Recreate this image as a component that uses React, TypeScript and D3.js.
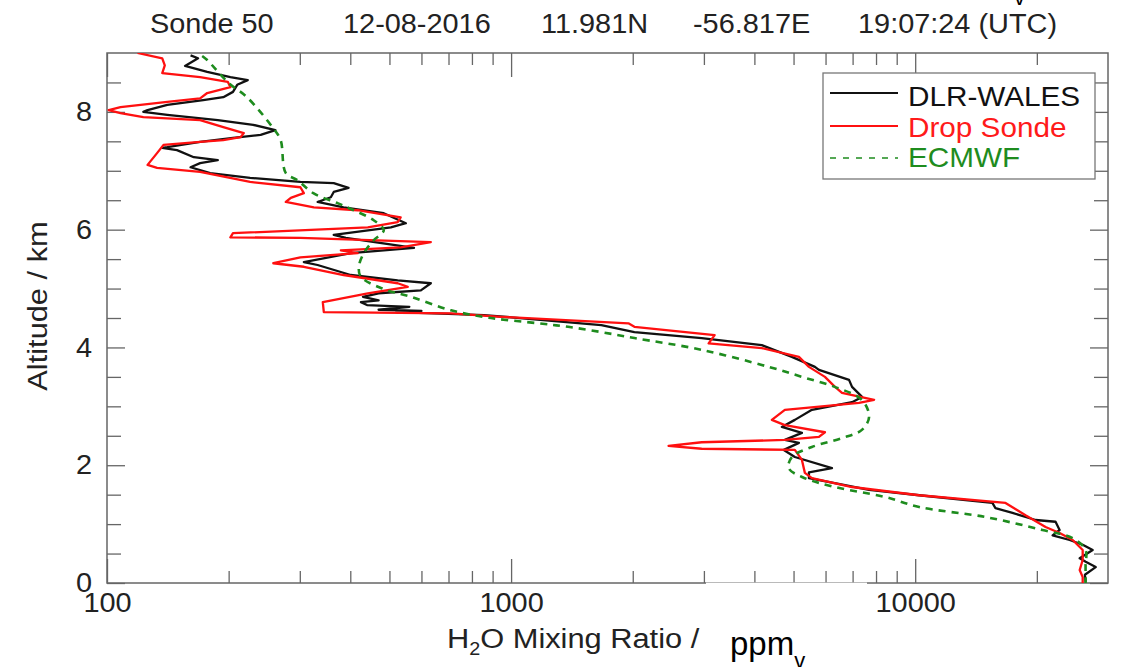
import React, { useEffect, useRef } from "react";
import * as d3 from "d3";

// [altitude km, H2O mixing ratio ppmv]
const dlrWales: [number, number][] = [
  [8.96, 161], [8.91, 168], [8.78, 156], [8.68, 177], [8.59, 202], [8.54, 223], [8.46, 210], [8.34, 205],
  [8.25, 194], [8.2, 173], [8.12, 141], [8.03, 126], [8.0, 123], [7.95, 141], [7.86, 188], [7.78, 230],
  [7.69, 261], [7.61, 240], [7.56, 205], [7.49, 170], [7.4, 141], [7.39, 137], [7.35, 149], [7.23, 164],
  [7.18, 188], [7.13, 170], [7.06, 161], [6.96, 180], [6.88, 226], [6.81, 301], [6.79, 364], [6.71, 396],
  [6.64, 364], [6.55, 358], [6.47, 332], [6.38, 385], [6.28, 484], [6.11, 549], [6.04, 504], [5.91, 364],
  [5.86, 390], [5.69, 575], [5.6, 401], [5.45, 307], [5.4, 332], [5.23, 401], [5.14, 524], [5.09, 633],
  [4.97, 598], [4.92, 470], [4.86, 430], [4.8, 470], [4.77, 425], [4.72, 440], [4.69, 560], [4.64, 470],
  [4.62, 600], [4.6, 520], [4.57, 700], [4.55, 857], [4.38, 1672], [4.26, 2019], [4.16, 2962], [4.04, 4172],
  [3.84, 4952], [3.67, 5648], [3.62, 5778], [3.45, 6859], [3.33, 6978], [3.16, 7387], [3.07, 6978], [2.94, 5552],
  [2.77, 5037], [2.65, 4677], [2.55, 5244], [2.43, 4758], [2.38, 5155], [2.26, 4731], [2.14, 5037], [1.95, 6223],
  [1.88, 5458], [1.78, 5458], [1.66, 6704], [1.58, 7689], [1.49, 10230], [1.36, 15530], [1.27, 15800], [1.19, 17410],
  [1.07, 19860], [1.04, 22250], [0.9, 22770], [0.81, 21880], [0.73, 24110], [0.65, 25970], [0.56, 27490], [0.42, 25530],
  [0.36, 26420], [0.27, 27970], [0.14, 26300], [0.02, 26420],
];

const dropSonde: [number, number][] = [
  [9.0, 119], [8.91, 137], [8.79, 139], [8.66, 137], [8.59, 170], [8.51, 199], [8.42, 202], [8.32, 177],
  [8.23, 170], [8.17, 141], [8.08, 108], [8.03, 101], [7.98, 108], [7.91, 123], [7.86, 170], [7.74, 194],
  [7.64, 218], [7.57, 214], [7.52, 194], [7.49, 170], [7.44, 138], [7.3, 133], [7.1, 126], [7.05, 133],
  [6.98, 170], [6.81, 226], [6.72, 301], [6.62, 307], [6.54, 285], [6.47, 277], [6.38, 325], [6.33, 417],
  [6.21, 533], [6.13, 524], [6.04, 442], [5.94, 205], [5.87, 202], [5.86, 301], [5.79, 633], [5.7, 533],
  [5.65, 379], [5.6, 417], [5.53, 301], [5.43, 258], [5.37, 307], [5.23, 385], [5.09, 524], [5.03, 555],
  [4.92, 442], [4.77, 342], [4.6, 344], [4.58, 710], [4.52, 945], [4.41, 1951], [4.35, 2019], [4.21, 3189],
  [4.07, 3082], [3.99, 4172], [3.84, 5155], [3.67, 5458], [3.5, 5979], [3.33, 6331], [3.23, 6590], [3.11, 7912],
  [3.06, 7261], [2.94, 4758], [2.77, 4418], [2.68, 4758], [2.56, 5979], [2.48, 5778], [2.43, 4758], [2.39, 2962],
  [2.33, 2453], [2.28, 2962], [2.26, 5037], [2.09, 5244], [1.87, 5333], [1.78, 5552], [1.63, 6978], [1.49, 10230],
  [1.36, 16730], [1.15, 18750], [0.95, 21020], [0.85, 22770], [0.73, 24530], [0.56, 25970], [0.39, 25970], [0.22, 25530],
  [0.1, 25970], [0.0, 25970],
];

const ecmwf: [number, number][] = [
  [8.95, 172], [8.88, 177], [8.49, 200], [8.25, 222], [7.72, 258], [7.52, 269], [6.96, 277], [6.84, 296],
  [6.62, 324], [6.45, 372], [6.33, 408], [6.16, 457], [5.99, 484], [5.82, 457], [5.6, 432], [5.37, 420],
  [5.2, 425], [5.0, 480], [4.86, 565], [4.63, 710], [4.5, 892], [4.41, 1167], [4.35, 1384], [4.26, 1673],
  [4.16, 2019], [3.96, 2960], [3.67, 4342], [3.5, 5248], [3.33, 6324], [3.11, 7380], [2.82, 7690], [2.6, 7380],
  [2.46, 6590], [2.31, 5550], [2.14, 4955], [1.95, 4865], [1.8, 5248], [1.63, 6324], [1.46, 8430], [1.29, 10230],
  [1.12, 14930], [0.9, 20650], [0.76, 24530], [0.56, 26400], [0.3, 26400], [0.0, 26400],
];

const titleParts = ["Sonde 50", "12-08-2016", "11.981N", "-56.817E", "19:07:24 (UTC)"];
const xMajor = [100, 1000, 10000];
const xMinor = [200, 300, 400, 500, 600, 700, 800, 900, 2000, 3000, 4000, 5000, 6000, 7000, 8000, 9000, 20000];
const yMajor = [0, 2, 4, 6, 8];
const yMinor = [0.5, 1, 1.5, 2.5, 3, 3.5, 4.5, 5, 5.5, 6.5, 7, 7.5, 8.5];
const legendNames = ["DLR-WALES", "Drop Sonde", "ECMWF"];

export default function App() {
  const ref = useRef<SVGSVGElement>(null);

  useEffect(() => {
    const width = 1131;
    const height = 667;
    const margin = { top: 53, right: 23, bottom: 84, left: 107 };
    const stretch = "scale(1.07,1)";
    const font = "'Liberation Sans', Arial, sans-serif";

    const svg = d3.select(ref.current);
    svg.selectAll("*").remove();

    const x = d3.scaleLog().domain([100, 30000]).range([margin.left, width - margin.right]);
    const y = d3.scaleLinear().domain([0, 9]).range([height - margin.bottom, margin.top]);
    const x0 = margin.left, x1 = width - margin.right, y0 = height - margin.bottom, y1 = margin.top;

    svg.append("rect").attr("width", width).attr("height", height).attr("fill", "#fff");

    svg.append("clipPath").attr("id", "plot-clip")
      .append("rect").attr("x", x0).attr("y", y1).attr("width", x1 - x0).attr("height", y0 - y1);

    const tickColor = "#666";
    const axisStyle = (g: any) => {
      g.select(".domain").remove();
      g.selectAll(".tick line").attr("stroke", tickColor).attr("stroke-width", 1.3);
      g.selectAll("text").attr("font-family", font).attr("font-size", 27).attr("fill", "#222").attr("transform", stretch);
    };

    // bottom / top
    svg.append("g").attr("transform", `translate(0,${y0})`)
      .call(d3.axisBottom(x).tickValues(xMinor).tickSize(-12).tickFormat(() => "")).call(axisStyle);
    svg.append("g").attr("transform", `translate(0,${y0})`)
      .call(d3.axisBottom(x).tickValues(xMajor).tickSize(-24).tickPadding(10).tickFormat(d3.format("d"))).call(axisStyle);
    svg.append("g").attr("transform", `translate(0,${y1})`)
      .call(d3.axisTop(x).tickValues(xMinor).tickSize(-12).tickFormat(() => "")).call(axisStyle);
    svg.append("g").attr("transform", `translate(0,${y1})`)
      .call(d3.axisTop(x).tickValues(xMajor).tickSize(-24).tickFormat(() => "")).call(axisStyle);

    // left / right
    svg.append("g").attr("transform", `translate(${x0},0)`)
      .call(d3.axisLeft(y).tickValues(yMinor).tickSize(-14).tickFormat(() => "")).call(axisStyle);
    svg.append("g").attr("transform", `translate(${x0},0)`)
      .call(d3.axisLeft(y).tickValues(yMajor).tickSize(-18).tickPadding(14).tickFormat(d3.format("d"))).call(axisStyle);
    svg.append("g").attr("transform", `translate(${x1},0)`)
      .call(d3.axisRight(y).tickValues(yMinor).tickSize(-14).tickFormat(() => "")).call(axisStyle);
    svg.append("g").attr("transform", `translate(${x1},0)`)
      .call(d3.axisRight(y).tickValues(yMajor).tickSize(-18).tickFormat(() => "")).call(axisStyle);

    svg.append("rect").attr("x", x0).attr("y", y1).attr("width", x1 - x0).attr("height", y0 - y1)
      .attr("fill", "none").attr("stroke", tickColor).attr("stroke-width", 1.5);

    const line = d3.line<[number, number]>().x(d => x(d[1])).y(d => y(d[0]));
    const plot = svg.append("g").attr("clip-path", "url(#plot-clip)");

    plot.append("path").datum(dlrWales).attr("d", line)
      .attr("fill", "none").attr("stroke", "#111").attr("stroke-width", 2.3).attr("stroke-linejoin", "round");
    plot.append("path").datum(dropSonde).attr("d", line)
      .attr("fill", "none").attr("stroke", "#ff1010").attr("stroke-width", 2.3).attr("stroke-linejoin", "round");
    plot.append("path").datum(ecmwf).attr("d", line.curve(d3.curveCatmullRom))
      .attr("fill", "none").attr("stroke", "#1e8c1e").attr("stroke-width", 2.6).attr("stroke-dasharray", "7,6");

    // legend
    const legend = svg.append("g");
    legend.append("rect").attr("x", 823).attr("y", 73).attr("width", 272).attr("height", 106)
      .attr("fill", "#fff").attr("stroke", "#777").attr("stroke-width", 1.3);
    const legendColors = ["#111", "#ff1010", "#1e8c1e"];
    const legendText = ["#111", "#ff1a1a", "#1e8c1e"];
    legendNames.forEach((name, i) => {
      const ly = [93, 126, 158][i];
      legend.append("line").attr("x1", 830).attr("x2", 898).attr("y1", ly).attr("y2", ly)
        .attr("stroke", legendColors[i]).attr("stroke-width", i === 2 ? 1.6 : 2)
        .attr("stroke-dasharray", i === 2 ? "6,7" : null);
      legend.append("text").attr("transform", `translate(908,${[106, 137, 167][i]}) scale(1.1,1)`)
        .attr("font-family", font).attr("font-size", 27).attr("fill", legendText[i]).text(name);
    });

    // title
    const titleX = [150, 343, 541, 693, 858];
    titleParts.forEach((t, i) => {
      svg.append("text").attr("transform", `translate(${titleX[i]},33) ${stretch}`)
        .attr("font-family", font).attr("font-size", 27).attr("fill", "#222").text(t);
    });

    // axis titles
    svg.append("text").attr("transform", `translate(47,306) rotate(-90) scale(1.1,1)`)
      .attr("text-anchor", "middle").attr("font-family", font).attr("font-size", 28).attr("fill", "#222")
      .text("Altitude / km");

    const xt = svg.append("text").attr("transform", `translate(447,648) scale(1.1,1)`)
      .attr("font-family", font).attr("font-size", 28).attr("fill", "#222");
    xt.append("tspan").text("H");
    xt.append("tspan").attr("font-size", 18).attr("dy", 7).text("2");
    xt.append("tspan").attr("dy", -7).text("O Mixing Ratio /");

    // pasted unit patch
    svg.append("rect").attr("x", 706).attr("y", 582.6).attr("width", 161).attr("height", 90).attr("fill", "#fff");
    const unit = svg.append("text").attr("x", 730).attr("y", 655)
      .attr("font-family", "Arial, 'Liberation Sans', sans-serif").attr("font-size", 33).attr("fill", "#000");
    unit.append("tspan").text("ppm");
    unit.append("tspan").attr("font-size", 22).attr("dy", 13).text("v");

    svg.append("text").attr("x", 1014).attr("y", 5)
      .attr("font-family", "Arial, 'Liberation Sans', sans-serif").attr("font-size", 22).attr("fill", "#000").text("v");
  }, []);

  return (
    <svg ref={ref} width={1131} height={667} style={{ position: "absolute", left: 0, top: 0 }} />
  );
}
